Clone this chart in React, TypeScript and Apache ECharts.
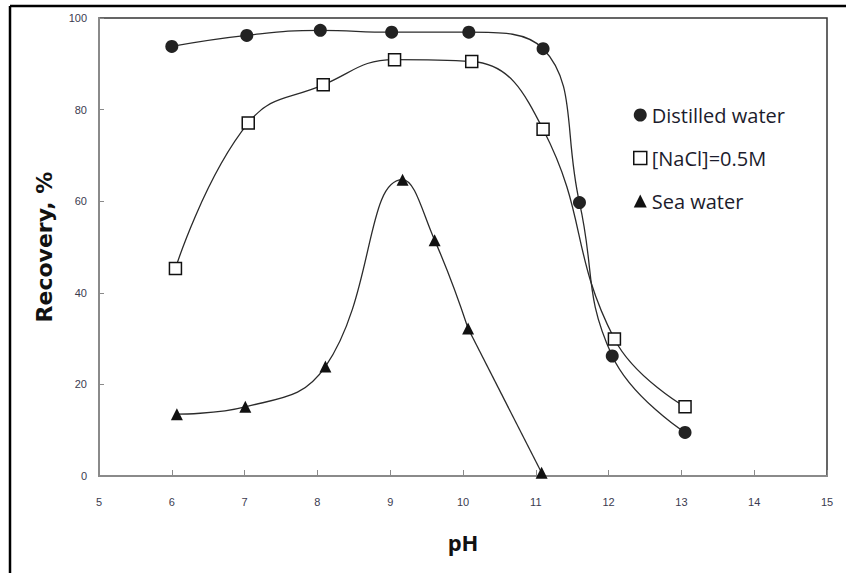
import React, { useEffect, useRef } from "react";
import * as echarts from "echarts";

const phDistilled = [6.0, 7.03, 8.04, 9.02, 10.08, 11.1, 11.6, 12.05, 13.05];
const recDistilled = [93.8, 96.2, 97.3, 96.9, 96.9, 93.3, 59.7, 26.2, 9.5];
const phNaCl = [6.05, 7.05, 8.08, 9.06, 10.12, 11.1, 12.08, 13.05];
const recNaCl = [45.3, 77.1, 85.4, 90.9, 90.5, 75.7, 29.9, 15.1];
const phSea = [6.07, 7.01, 8.11, 9.17, 9.61, 10.07, 11.08];
const recSea = [13.5, 15.1, 23.9, 64.7, 51.5, 32.2, 0.7];

const seriesNames = ["Distilled water", "[NaCl]=0.5M", "Sea water"];
const xTicks = { min: 5, max: 15, interval: 1 };
const yTicks = { min: 0, max: 100, interval: 20 };

const pairs = (xs: number[], ys: number[]) => xs.map((x, i) => [x, ys[i]]);

export default function App() {
  const ref = useRef<HTMLDivElement>(null);
  useEffect(() => {
    if (!ref.current) return;
    const chart = echarts.init(ref.current, null, { renderer: "svg" });
    const lineStyle = { color: "#2b2b2b", width: 1.3 };
    const curve = (data: number[][], smooth: number | boolean) => ({
      type: "line",
      data,
      smooth,
      showSymbol: false,
      symbol: "none",
      lineStyle,
      silent: true,
      z: 2,
    });
    chart.setOption({
      animation: false,
      backgroundColor: "#ffffff",
      grid: {
        left: 99,
        top: 18,
        right: 19,
        bottom: 97,
        show: true,
        borderColor: "#333333",
        borderWidth: 1.5,
        backgroundColor: "transparent",
      },
      legend: {
        orient: "vertical",
        left: 628,
        top: 100,
        itemWidth: 13,
        itemHeight: 13,
        itemGap: 23,
        itemTextGap: 6,
        textStyle: {
          fontFamily: "Open Sans",
          fontSize: 20,
          lineHeight: 20,
          color: "#1c1c2c",
        },
        data: [
          { name: seriesNames[0], icon: "circle", itemStyle: { color: "#222222" } },
          {
            name: seriesNames[1],
            icon: "rect",
            itemStyle: { color: "#ffffff", borderColor: "#111111", borderWidth: 1.5 },
          },
          { name: seriesNames[2], icon: "triangle", itemStyle: { color: "#111111" } },
        ],
      },
      xAxis: {
        type: "value",
        min: xTicks.min,
        max: xTicks.max,
        interval: xTicks.interval,
        name: "pH",
        nameLocation: "middle",
        nameGap: 55,
        nameTextStyle: {
          fontFamily: "Open Sans",
          fontWeight: "bold",
          fontSize: 22,
          color: "#111111",
        },
        axisLine: { show: true, lineStyle: { color: "#8a8a8a", width: 2 } },
        axisTick: { show: true, inside: true, length: 6, lineStyle: { color: "#8a8a8a", width: 1 } },
        axisLabel: {
          margin: 20,
          fontFamily: "Liberation Sans",
          fontSize: 11,
          color: "#3b3b50",
        },
        splitLine: { show: false },
      },
      yAxis: {
        type: "value",
        min: yTicks.min,
        max: yTicks.max,
        interval: yTicks.interval,
        name: "Recovery, %",
        nameLocation: "middle",
        nameGap: 44,
        nameTextStyle: {
          fontFamily: "DejaVu Sans",
          fontWeight: "bold",
          fontSize: 22,
          color: "#111111",
        },
        axisLine: { show: true, lineStyle: { color: "#8a8a8a", width: 2 } },
        axisTick: { show: true, inside: true, length: 5, lineStyle: { color: "#8a8a8a", width: 1 } },
        axisLabel: {
          margin: 12,
          fontFamily: "Liberation Sans",
          fontSize: 11,
          color: "#3b3b50",
        },
        splitLine: { show: false },
      },
      graphic: [
        { type: "line", shape: { x1: 10, y1: 6, x2: 846, y2: 6 }, style: { stroke: "#000", lineWidth: 2.5 } },
        { type: "line", shape: { x1: 10, y1: 6, x2: 10, y2: 573 }, style: { stroke: "#000", lineWidth: 2.5 } },
      ],
      series: [
        curve(pairs(phDistilled, recDistilled), 0.45),
        curve(pairs(phNaCl, recNaCl), 0.45),
        curve(pairs(phSea.slice(0, 6), recSea.slice(0, 6)), 0.45),
        curve(pairs(phSea.slice(5), recSea.slice(5)), false),
        {
          name: seriesNames[0],
          type: "scatter",
          data: pairs(phDistilled, recDistilled),
          symbol: "circle",
          symbolSize: 13,
          itemStyle: { color: "#222222", opacity: 1 },
          z: 5,
        },
        {
          name: seriesNames[1],
          type: "scatter",
          data: pairs(phNaCl, recNaCl),
          symbol: "rect",
          symbolSize: 12,
          itemStyle: { color: "#ffffff", borderColor: "#111111", borderWidth: 1.5, opacity: 1 },
          z: 5,
        },
        {
          name: seriesNames[2],
          type: "scatter",
          data: pairs(phSea, recSea),
          symbol: "triangle",
          symbolSize: 12,
          itemStyle: { color: "#111111", opacity: 1 },
          z: 5,
        },
      ],
    });
    return () => chart.dispose();
  }, []);
  return (
    <div
      ref={ref}
      style={{ position: "fixed", left: 0, top: 0, width: 846, height: 573, background: "#fff" }}
    />
  );
}
